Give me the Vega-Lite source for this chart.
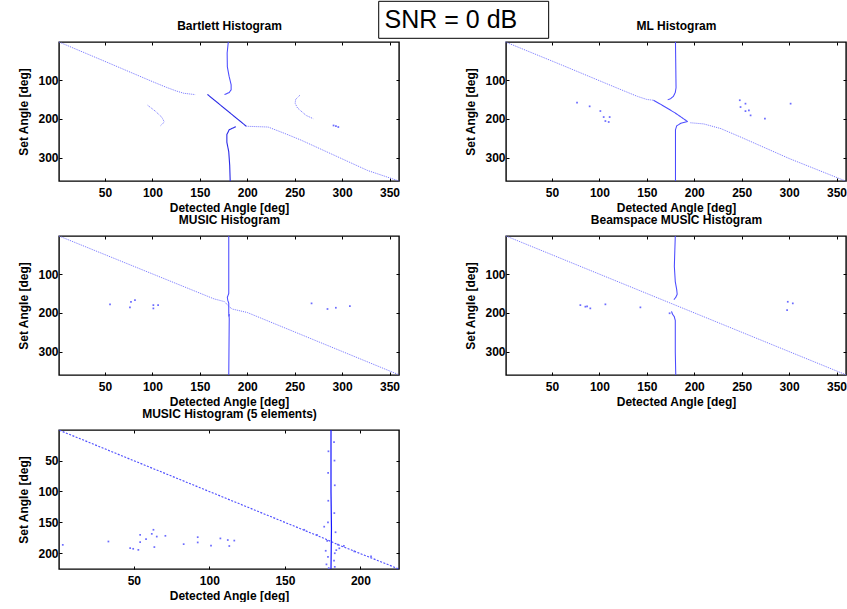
{
  "$schema": "https://vega.github.io/schema/vega-lite/v6.json",
  "background": "white",
  "padding": {"left": 17, "top": 0, "right": 0, "bottom": 0},
  "columns": 2,
  "spacing": {"row": 55, "column": 107},
  "bounds": "flush",
  "datasets": {
    "curves": [
      {"p":1,"s":"a","k":"diag","x":1.5,"y":2},{"p":1,"s":"a","k":"diag","x":50,"y":52},{"p":1,"s":"a","k":"diag","x":100,"y":104},{"p":1,"s":"a","k":"diag","x":115,"y":119},{"p":1,"s":"a","k":"diag","x":125,"y":128},{"p":1,"s":"a","k":"diag","x":133,"y":134},{"p":1,"s":"a","k":"diag","x":145,"y":137.5},
      {"p":1,"s":"b","k":"vert","x":180,"y":2},{"p":1,"s":"b","k":"vert","x":178.8,"y":30},{"p":1,"s":"b","k":"vert","x":179,"y":66},{"p":1,"s":"b","k":"vert","x":181,"y":92},{"p":1,"s":"b","k":"vert","x":183,"y":112},{"p":1,"s":"b","k":"vert","x":183,"y":125},{"p":1,"s":"b","k":"vert","x":181,"y":132},{"p":1,"s":"b","k":"vert","x":176,"y":137.5},
      {"p":1,"s":"c","k":"strong","x":158,"y":137},{"p":1,"s":"c","k":"strong","x":199,"y":219},
      {"p":1,"s":"d","k":"strong","x":188,"y":220},{"p":1,"s":"d","k":"strong","x":181,"y":228},{"p":1,"s":"d","k":"strong","x":178.5,"y":240},{"p":1,"s":"d","k":"strong","x":178.5,"y":260},{"p":1,"s":"d","k":"strong","x":180.5,"y":285},{"p":1,"s":"d","k":"strong","x":181.5,"y":320},{"p":1,"s":"d","k":"strong","x":182,"y":360},
      {"p":1,"s":"e","k":"diag","x":199,"y":219},{"p":1,"s":"e","k":"diag","x":222,"y":221},{"p":1,"s":"e","k":"diag","x":240,"y":238},{"p":1,"s":"e","k":"diag","x":257,"y":255},{"p":1,"s":"e","k":"diag","x":292,"y":294},{"p":1,"s":"e","k":"diag","x":327,"y":333},{"p":1,"s":"e","k":"diag","x":360,"y":360},
      {"p":1,"s":"f","k":"diag","x":95,"y":165},{"p":1,"s":"f","k":"diag","x":103,"y":180},{"p":1,"s":"f","k":"diag","x":110,"y":196},{"p":1,"s":"f","k":"diag","x":112.5,"y":208},{"p":1,"s":"f","k":"diag","x":108,"y":219},
      {"p":1,"s":"g","k":"diag","x":255.5,"y":139},{"p":1,"s":"g","k":"diag","x":251,"y":150},{"p":1,"s":"g","k":"diag","x":250.5,"y":160},{"p":1,"s":"g","k":"diag","x":253,"y":172},{"p":1,"s":"g","k":"diag","x":262,"y":191},{"p":1,"s":"g","k":"diag","x":269.5,"y":199.5},

      {"p":2,"s":"a","k":"diag","x":1,"y":2},{"p":2,"s":"a","k":"diag","x":60,"y":61},{"p":2,"s":"a","k":"diag","x":120,"y":122},{"p":2,"s":"a","k":"diag","x":140,"y":142},{"p":2,"s":"a","k":"diag","x":150,"y":150},{"p":2,"s":"a","k":"diag","x":157,"y":152},
      {"p":2,"s":"c","k":"vert","x":157,"y":152},{"p":2,"s":"c","k":"vert","x":165,"y":163},{"p":2,"s":"c","k":"vert","x":180,"y":185},{"p":2,"s":"c","k":"vert","x":193,"y":207},
      {"p":2,"s":"b","k":"vert","x":180.2,"y":2},{"p":2,"s":"b","k":"vert","x":180.5,"y":60},{"p":2,"s":"b","k":"vert","x":180.8,"y":120},{"p":2,"s":"b","k":"vert","x":180,"y":132},{"p":2,"s":"b","k":"vert","x":178,"y":142},{"p":2,"s":"b","k":"vert","x":175,"y":148},{"p":2,"s":"b","k":"vert","x":172,"y":151},
      {"p":2,"s":"d","k":"vert","x":193,"y":207},{"p":2,"s":"d","k":"vert","x":186,"y":211},{"p":2,"s":"d","k":"vert","x":181.5,"y":218},{"p":2,"s":"d","k":"vert","x":180.2,"y":228},{"p":2,"s":"d","k":"vert","x":180.2,"y":360},
      {"p":2,"s":"e","k":"diag","x":196,"y":210},{"p":2,"s":"e","k":"diag","x":210,"y":213},{"p":2,"s":"e","k":"diag","x":228,"y":225},{"p":2,"s":"e","k":"diag","x":250,"y":248},{"p":2,"s":"e","k":"diag","x":300,"y":302},{"p":2,"s":"e","k":"diag","x":359.5,"y":360},

      {"p":3,"s":"a","k":"diag","x":1.5,"y":2},{"p":3,"s":"a","k":"diag","x":165,"y":164},{"p":3,"s":"a","k":"diag","x":176,"y":171},{"p":3,"s":"a","k":"diag","x":180,"y":182},{"p":3,"s":"a","k":"diag","x":184,"y":190},{"p":3,"s":"a","k":"diag","x":200,"y":199},{"p":3,"s":"a","k":"diag","x":360,"y":359.5},
      {"p":3,"s":"b","k":"vert","x":180.5,"y":2},{"p":3,"s":"b","k":"vert","x":180.5,"y":150},{"p":3,"s":"b","k":"vert","x":179,"y":160},{"p":3,"s":"b","k":"vert","x":179.5,"y":168},{"p":3,"s":"b","k":"vert","x":180.5,"y":175},{"p":3,"s":"b","k":"vert","x":180.5,"y":200},{"p":3,"s":"b","k":"vert","x":181,"y":215},{"p":3,"s":"b","k":"vert","x":180.5,"y":360},

      {"p":4,"s":"a","k":"diag","x":1.5,"y":2},{"p":4,"s":"a","k":"diag","x":360,"y":359.5},
      {"p":4,"s":"b","k":"vert","x":180,"y":2},{"p":4,"s":"b","k":"vert","x":179.5,"y":40},{"p":4,"s":"b","k":"vert","x":179,"y":80},{"p":4,"s":"b","k":"vert","x":180,"y":120},{"p":4,"s":"b","k":"vert","x":181.5,"y":140},{"p":4,"s":"b","k":"vert","x":182,"y":152},{"p":4,"s":"b","k":"vert","x":180.5,"y":160},{"p":4,"s":"b","k":"vert","x":178.5,"y":166},
      {"p":4,"s":"d","k":"vert","x":176,"y":196},{"p":4,"s":"d","k":"vert","x":177,"y":203},{"p":4,"s":"d","k":"vert","x":179,"y":210},{"p":4,"s":"d","k":"vert","x":180,"y":220},{"p":4,"s":"d","k":"vert","x":180,"y":300},{"p":4,"s":"d","k":"vert","x":180.5,"y":360},

      {"p":5,"s":"a","k":"diag5","x":0.8,"y":1},{"p":5,"s":"a","k":"diag5","x":176,"y":176},{"p":5,"s":"a","k":"diag5","x":185,"y":186},{"p":5,"s":"a","k":"diag5","x":225.5,"y":225.5},
      {"p":5,"s":"b","k":"vert5","x":180.5,"y":0.5},{"p":5,"s":"b","k":"vert5","x":180.5,"y":100},{"p":5,"s":"b","k":"vert5","x":180.8,"y":160},{"p":5,"s":"b","k":"vert5","x":180.5,"y":225.5}
    ],
    "dots": [
      {"p":1,"x":291,"y":217},{"p":1,"x":296,"y":221},{"p":1,"x":293.5,"y":218.5},
      {"p":2,"x":76.4,"y":158.3},{"p":2,"x":89.7,"y":167.7},{"p":2,"x":101,"y":179.8},{"p":2,"x":104.5,"y":195.3},{"p":2,"x":110.8,"y":195.3},{"p":2,"x":106.3,"y":205.6},{"p":2,"x":109.8,"y":208},{"p":2,"x":248,"y":152},{"p":2,"x":248.8,"y":169.5},{"p":2,"x":254,"y":160.8},{"p":2,"x":257.6,"y":178},{"p":2,"x":259.4,"y":191},{"p":2,"x":254,"y":180},{"p":2,"x":274.5,"y":199.5},{"p":2,"x":301.6,"y":160.8},
      {"p":3,"x":55.3,"y":178},{"p":3,"x":76.3,"y":186},{"p":3,"x":77.4,"y":171.5},{"p":3,"x":81.6,"y":167},{"p":3,"x":101,"y":180},{"p":3,"x":106,"y":180},{"p":3,"x":101,"y":188.5},{"p":3,"x":267.8,"y":175.5},{"p":3,"x":284.6,"y":190},{"p":3,"x":293.4,"y":186.8},{"p":3,"x":308.2,"y":182.5},{"p":3,"x":180.8,"y":205},{"p":3,"x":180.8,"y":207},
      {"p":4,"x":79.9,"y":180},{"p":4,"x":85.2,"y":184},{"p":4,"x":90.4,"y":188.4},{"p":4,"x":87,"y":183},{"p":4,"x":106.3,"y":178},{"p":4,"x":143.2,"y":185.8},{"p":4,"x":298.6,"y":171.4},{"p":4,"x":303.9,"y":175.5},{"p":4,"x":297.9,"y":192.8},{"p":4,"x":174,"y":201},
      {"p":5,"x":3,"y":186.4},{"p":5,"x":33.2,"y":181},{"p":5,"x":47.6,"y":191.7},{"p":5,"x":49.6,"y":192.8},{"p":5,"x":53,"y":194.5},{"p":5,"x":54.2,"y":170.2},{"p":5,"x":54.2,"y":182},{"p":5,"x":58.1,"y":177},{"p":5,"x":61.9,"y":168.6},{"p":5,"x":63,"y":162},{"p":5,"x":65.2,"y":173},{"p":5,"x":63.6,"y":190},{"p":5,"x":70.9,"y":171.8},{"p":5,"x":83,"y":185.3},{"p":5,"x":92.3,"y":174},{"p":5,"x":92.3,"y":182.5},{"p":5,"x":101.1,"y":187.5},{"p":5,"x":107.3,"y":176},{"p":5,"x":112.2,"y":178.6},{"p":5,"x":113.2,"y":188.3},{"p":5,"x":116.5,"y":179.5},
      {"p":5,"x":182.5,"y":20},{"p":5,"x":178.8,"y":35},{"p":5,"x":182.8,"y":50},{"p":5,"x":178.6,"y":70},{"p":5,"x":183,"y":90},{"p":5,"x":178.7,"y":115},{"p":5,"x":182.7,"y":135},{"p":5,"x":178.5,"y":150},{"p":5,"x":176,"y":157},{"p":5,"x":183.5,"y":166},{"p":5,"x":178,"y":180},{"p":5,"x":185,"y":186},{"p":5,"x":177,"y":196},{"p":5,"x":183,"y":200},{"p":5,"x":178.5,"y":206},{"p":5,"x":182.5,"y":212},{"p":5,"x":177.5,"y":218},{"p":5,"x":183,"y":222},{"p":5,"x":179,"y":224},{"p":5,"x":162.8,"y":162},{"p":5,"x":171.2,"y":170.2},{"p":5,"x":186,"y":192},{"p":5,"x":189,"y":188},{"p":5,"x":184,"y":195},{"p":5,"x":195.9,"y":197},{"p":5,"x":207,"y":205}
    ],
    "snr": [{"x":338.6,"x2":517.8,"y":-102.8,"y2":-7.5,"tx":344.8,"ty":-35,"label":"SNR = 0 dB"}]
  },
  "concat": [
    {
      "width": 340, "height": 139,
      "layer": [
        {"data": {"name": "curves"}, "transform": [{"filter": "datum.p == 1"}],
         "mark": {"type": "line"},
         "encoding": {
           "x": {"field": "x", "type": "quantitative", "scale": {"domain": [1.5, 360], "nice": false, "zero": false}, "axis": {"values": [50,100,150,200,250,300,350], "title": "Detected Angle [deg]"}},
           "y": {"field": "y", "type": "quantitative", "scale": {"domain": [2, 360], "nice": false, "zero": false, "reverse": true}, "axis": {"values": [100,200,300], "title": "Set Angle [deg]"}},
           "detail": {"field": "s"},
           "order": {"value": null},
           "color": {"field": "k", "type": "nominal", "legend": null, "scale": {"domain": ["diag","vert","strong","diag5","vert5"], "range": ["#7474ff","#4a4aff","#2a2ae6","#5050ff","#1414ff"]}},
           "strokeWidth": {"field": "k", "type": "ordinal", "legend": null, "scale": {"domain": ["diag","vert","strong","diag5","vert5"], "range": [1,1.2,1.4,1.4,2]}},
           "strokeDash": {"field": "k", "type": "nominal", "legend": null, "scale": {"domain": ["diag","vert","strong","diag5","vert5"], "range": [[1,1],[1,0],[1,0],[2,1.5],[1,0]]}}
         }},
        {"data": {"name": "dots"}, "transform": [{"filter": "datum.p == 1"}],
         "mark": {"type": "square", "size": 3, "color": "#6c6cff", "opacity": 1},
         "encoding": {
           "x": {"field": "x", "type": "quantitative", "scale": {"domain": [1.5, 360], "nice": false, "zero": false}, "axis": {"orient": "top", "labels": false, "title": "Bartlett Histogram", "titlePadding": 12, "titleBaseline": "alphabetic", "values": [50,100,150,200,250,300,350]}},
           "y": {"field": "y", "type": "quantitative", "scale": {"domain": [2, 360], "nice": false, "zero": false, "reverse": true}, "axis": {"orient": "right", "labels": false, "title": null, "values": [100,200,300]}}
         }},
        {"data": {"name": "snr"},
         "mark": {"type": "rect", "fill": "white", "stroke": "black", "strokeWidth": 1, "clip": false},
         "encoding": {
           "x": {"field": "x", "type": "quantitative", "scale": {"domain": [1.5, 360], "nice": false, "zero": false}, "axis": null},
           "x2": {"field": "x2"},
           "y": {"field": "y", "type": "quantitative", "scale": {"domain": [2, 360], "nice": false, "zero": false, "reverse": true}, "axis": null},
           "y2": {"field": "y2"}
         }},
        {"data": {"name": "snr"},
         "mark": {"type": "text", "align": "left", "baseline": "alphabetic", "font": "Liberation Sans", "fontSize": 25, "color": "black", "clip": false},
         "encoding": {
           "x": {"field": "tx", "type": "quantitative", "scale": {"domain": [1.5, 360], "nice": false, "zero": false}, "axis": null},
           "y": {"field": "ty", "type": "quantitative", "scale": {"domain": [2, 360], "nice": false, "zero": false, "reverse": true}, "axis": null},
           "text": {"field": "label"}
         }}
      ],
      "resolve": {"axis": {"x": "independent", "y": "independent"}}
    },
    {
      "width": 340, "height": 139,
      "layer": [
        {"data": {"name": "curves"}, "transform": [{"filter": "datum.p == 2"}],
         "mark": {"type": "line"},
         "encoding": {
           "x": {"field": "x", "type": "quantitative", "scale": {"domain": [1.5, 360], "nice": false, "zero": false}, "axis": {"values": [50,100,150,200,250,300,350], "title": "Detected Angle [deg]"}},
           "y": {"field": "y", "type": "quantitative", "scale": {"domain": [2, 360], "nice": false, "zero": false, "reverse": true}, "axis": {"values": [100,200,300], "title": "Set Angle [deg]"}},
           "detail": {"field": "s"},
           "order": {"value": null},
           "color": {"field": "k", "type": "nominal", "legend": null, "scale": {"domain": ["diag","vert","strong","diag5","vert5"], "range": ["#7474ff","#4a4aff","#2a2ae6","#5050ff","#1414ff"]}},
           "strokeWidth": {"field": "k", "type": "ordinal", "legend": null, "scale": {"domain": ["diag","vert","strong","diag5","vert5"], "range": [1,1.2,1.4,1.4,2]}},
           "strokeDash": {"field": "k", "type": "nominal", "legend": null, "scale": {"domain": ["diag","vert","strong","diag5","vert5"], "range": [[1,1],[1,0],[1,0],[2,1.5],[1,0]]}}
         }},
        {"data": {"name": "dots"}, "transform": [{"filter": "datum.p == 2"}],
         "mark": {"type": "square", "size": 3, "color": "#6c6cff", "opacity": 1},
         "encoding": {
           "x": {"field": "x", "type": "quantitative", "scale": {"domain": [1.5, 360], "nice": false, "zero": false}, "axis": {"orient": "top", "labels": false, "title": "ML Histogram", "titlePadding": 12, "titleBaseline": "alphabetic", "values": [50,100,150,200,250,300,350]}},
           "y": {"field": "y", "type": "quantitative", "scale": {"domain": [2, 360], "nice": false, "zero": false, "reverse": true}, "axis": {"orient": "right", "labels": false, "title": null, "values": [100,200,300]}}
         }}
      ],
      "resolve": {"axis": {"x": "independent", "y": "independent"}}
    },
    {
      "width": 340, "height": 139,
      "layer": [
        {"data": {"name": "curves"}, "transform": [{"filter": "datum.p == 3"}],
         "mark": {"type": "line"},
         "encoding": {
           "x": {"field": "x", "type": "quantitative", "scale": {"domain": [1.5, 360], "nice": false, "zero": false}, "axis": {"values": [50,100,150,200,250,300,350], "title": "Detected Angle [deg]"}},
           "y": {"field": "y", "type": "quantitative", "scale": {"domain": [2, 360], "nice": false, "zero": false, "reverse": true}, "axis": {"values": [100,200,300], "title": "Set Angle [deg]"}},
           "detail": {"field": "s"},
           "order": {"value": null},
           "color": {"field": "k", "type": "nominal", "legend": null, "scale": {"domain": ["diag","vert","strong","diag5","vert5"], "range": ["#7474ff","#4a4aff","#2a2ae6","#5050ff","#1414ff"]}},
           "strokeWidth": {"field": "k", "type": "ordinal", "legend": null, "scale": {"domain": ["diag","vert","strong","diag5","vert5"], "range": [1,1.2,1.4,1.4,2]}},
           "strokeDash": {"field": "k", "type": "nominal", "legend": null, "scale": {"domain": ["diag","vert","strong","diag5","vert5"], "range": [[1,1],[1,0],[1,0],[2,1.5],[1,0]]}}
         }},
        {"data": {"name": "dots"}, "transform": [{"filter": "datum.p == 3"}],
         "mark": {"type": "square", "size": 3, "color": "#6c6cff", "opacity": 1},
         "encoding": {
           "x": {"field": "x", "type": "quantitative", "scale": {"domain": [1.5, 360], "nice": false, "zero": false}, "axis": {"orient": "top", "labels": false, "title": "MUSIC Histogram", "titlePadding": 12, "titleBaseline": "alphabetic", "values": [50,100,150,200,250,300,350]}},
           "y": {"field": "y", "type": "quantitative", "scale": {"domain": [2, 360], "nice": false, "zero": false, "reverse": true}, "axis": {"orient": "right", "labels": false, "title": null, "values": [100,200,300]}}
         }}
      ],
      "resolve": {"axis": {"x": "independent", "y": "independent"}}
    },
    {
      "width": 340, "height": 139,
      "layer": [
        {"data": {"name": "curves"}, "transform": [{"filter": "datum.p == 4"}],
         "mark": {"type": "line"},
         "encoding": {
           "x": {"field": "x", "type": "quantitative", "scale": {"domain": [1.5, 360], "nice": false, "zero": false}, "axis": {"values": [50,100,150,200,250,300,350], "title": "Detected Angle [deg]"}},
           "y": {"field": "y", "type": "quantitative", "scale": {"domain": [2, 360], "nice": false, "zero": false, "reverse": true}, "axis": {"values": [100,200,300], "title": "Set Angle [deg]"}},
           "detail": {"field": "s"},
           "order": {"value": null},
           "color": {"field": "k", "type": "nominal", "legend": null, "scale": {"domain": ["diag","vert","strong","diag5","vert5"], "range": ["#7474ff","#4a4aff","#2a2ae6","#5050ff","#1414ff"]}},
           "strokeWidth": {"field": "k", "type": "ordinal", "legend": null, "scale": {"domain": ["diag","vert","strong","diag5","vert5"], "range": [1,1.2,1.4,1.4,2]}},
           "strokeDash": {"field": "k", "type": "nominal", "legend": null, "scale": {"domain": ["diag","vert","strong","diag5","vert5"], "range": [[1,1],[1,0],[1,0],[2,1.5],[1,0]]}}
         }},
        {"data": {"name": "dots"}, "transform": [{"filter": "datum.p == 4"}],
         "mark": {"type": "square", "size": 3, "color": "#6c6cff", "opacity": 1},
         "encoding": {
           "x": {"field": "x", "type": "quantitative", "scale": {"domain": [1.5, 360], "nice": false, "zero": false}, "axis": {"orient": "top", "labels": false, "title": "Beamspace MUSIC Histogram", "titlePadding": 12, "titleBaseline": "alphabetic", "values": [50,100,150,200,250,300,350]}},
           "y": {"field": "y", "type": "quantitative", "scale": {"domain": [2, 360], "nice": false, "zero": false, "reverse": true}, "axis": {"orient": "right", "labels": false, "title": null, "values": [100,200,300]}}
         }}
      ],
      "resolve": {"axis": {"x": "independent", "y": "independent"}}
    },
    {
      "width": 340, "height": 139,
      "layer": [
        {"data": {"name": "curves"}, "transform": [{"filter": "datum.p == 5"}],
         "mark": {"type": "line"},
         "encoding": {
           "x": {"field": "x", "type": "quantitative", "scale": {"domain": [0.5, 225.5], "nice": false, "zero": false}, "axis": {"values": [50,100,150,200], "title": "Detected Angle [deg]"}},
           "y": {"field": "y", "type": "quantitative", "scale": {"domain": [0.5, 225.5], "nice": false, "zero": false, "reverse": true}, "axis": {"values": [50,100,150,200], "title": "Set Angle [deg]"}},
           "detail": {"field": "s"},
           "order": {"value": null},
           "color": {"field": "k", "type": "nominal", "legend": null, "scale": {"domain": ["diag","vert","strong","diag5","vert5"], "range": ["#7474ff","#4a4aff","#2a2ae6","#5050ff","#1414ff"]}},
           "strokeWidth": {"field": "k", "type": "ordinal", "legend": null, "scale": {"domain": ["diag","vert","strong","diag5","vert5"], "range": [1,1.2,1.4,1.4,2]}},
           "strokeDash": {"field": "k", "type": "nominal", "legend": null, "scale": {"domain": ["diag","vert","strong","diag5","vert5"], "range": [[1,1],[1,0],[1,0],[2,1.5],[1,0]]}}
         }},
        {"data": {"name": "dots"}, "transform": [{"filter": "datum.p == 5"}],
         "mark": {"type": "square", "size": 3, "color": "#6c6cff", "opacity": 1},
         "encoding": {
           "x": {"field": "x", "type": "quantitative", "scale": {"domain": [0.5, 225.5], "nice": false, "zero": false}, "axis": {"orient": "top", "labels": false, "title": "MUSIC Histogram (5 elements)", "titlePadding": 12, "titleBaseline": "alphabetic", "values": [50,100,150,200]}},
           "y": {"field": "y", "type": "quantitative", "scale": {"domain": [0.5, 225.5], "nice": false, "zero": false, "reverse": true}, "axis": {"orient": "right", "labels": false, "title": null, "values": [50,100,150,200]}}
         }}
      ],
      "resolve": {"axis": {"x": "independent", "y": "independent"}}
    }
  ],
  "config": {
    "view": {"stroke": "black", "strokeWidth": 1.4},
    "axis": {
      "domain": false, "grid": false, "ticks": true, "tickColor": "black", "tickSize": -3, "tickWidth": 1,
      "labelFont": "Liberation Sans, Arial, sans-serif", "labelFontWeight": "bold", "labelFontSize": 12, "labelColor": "black", "labelOverlap": false, "labelFlush": false,
      "titleFont": "Liberation Sans, Arial, sans-serif", "titleFontWeight": "bold", "titleFontSize": 12, "titleColor": "black"
    },
    "axisX": {"labelPadding": 9, "titlePadding": 4},
    "axisY": {"labelPadding": 4, "titlePadding": 7}
  }
}
